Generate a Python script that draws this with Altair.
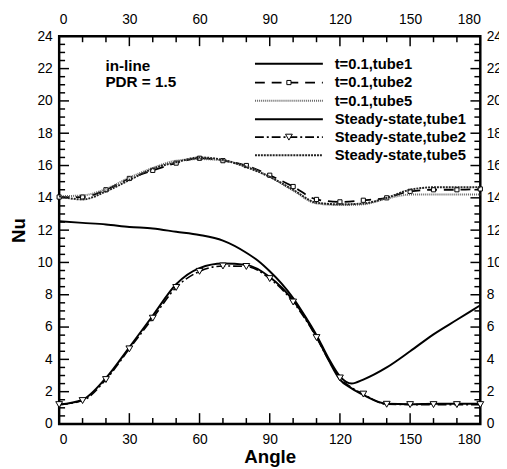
import altair as alt
import pandas as pd

# ---------------- data ----------------
angles10 = [0, 10, 20, 30, 40, 50, 60, 70, 80, 90, 100, 110, 120, 130, 140, 150, 160, 170, 180]
angles_low = [0, 10, 20, 30, 40, 50, 60, 70, 80, 90, 100, 110, 115, 120, 125, 130, 140, 150, 160, 170, 180]
angles_t1 = [0, 10, 20, 30, 40, 50, 60, 70, 80, 85, 90, 95, 100, 105, 110, 115, 120, 125, 130, 140, 150, 160, 170, 180]

t01_tube1 = [12.55, 12.45, 12.35, 12.2, 12.1, 11.9, 11.7, 11.35, 10.6, 10.1, 9.45, 8.7, 7.8, 6.7,
             5.5, 4.1, 2.95, 2.5, 2.75, 3.5, 4.5, 5.55, 6.45, 7.35]
t01_tube2 = [14.05, 14.05, 14.5, 15.2, 15.7, 16.15, 16.45, 16.3, 16.0, 15.4, 14.7, 13.9, 13.75,
             13.85, 14.0, 14.4, 14.5, 14.5, 14.55]
t01_tube5 = [14.1, 14.15, 14.55, 15.25, 15.85, 16.3, 16.4, 16.3, 15.95, 15.3, 14.45, 13.65, 13.55,
             13.6, 13.95, 14.2, 14.2, 14.2, 14.2]
ss_tube1 = [1.2, 1.5, 2.85, 4.75, 6.7, 8.65, 9.65, 9.93, 9.85, 9.1, 7.65, 5.4, 4.0, 2.75, 2.2,
            1.8, 1.25, 1.22, 1.25, 1.25, 1.25]
ss_tube2 = [1.2, 1.45, 2.75, 4.65, 6.55, 8.45, 9.45, 9.78, 9.75, 9.0, 7.55, 5.35, 4.0, 2.85, 2.25,
            1.85, 1.22, 1.2, 1.2, 1.2, 1.2]
ss_tube5 = [14.1, 13.9, 14.4, 15.1, 15.8, 16.2, 16.5, 16.35, 15.9, 15.3, 14.5, 13.7, 13.6,
            13.65, 14.0, 14.5, 14.65, 14.65, 14.65]

series_names = ["t=0.1,tube1", "t=0.1,tube2", "t=0.1,tube5",
                "Steady-state,tube1", "Steady-state,tube2", "Steady-state,tube5"]
series_data = {
    "t=0.1,tube1": (angles_t1, t01_tube1),
    "t=0.1,tube2": (angles10, t01_tube2),
    "t=0.1,tube5": (angles10, t01_tube5),
    "Steady-state,tube1": (angles_low, ss_tube1),
    "Steady-state,tube2": (angles_low, ss_tube2),
    "Steady-state,tube5": (angles10, ss_tube5),
}

x_labels = [0, 30, 60, 90, 120, 150, 180]
x_minor = [10, 20, 40, 50, 70, 80, 100, 110, 130, 140, 160, 170]
y_labels = [0, 2, 4, 6, 8, 10, 12, 14, 16, 18, 20, 22, 24]
y_minor = [v / 2 for v in range(1, 48) if v % 4 != 0]

annotations = ["in-line", "PDR = 1.5"]

# ---------------- styles / layout ----------------
W, H = 428, 394
FONT = "Liberation Sans"
styles = {
    "t=0.1,tube1": dict(color="black", strokeWidth=2),
    "t=0.1,tube2": dict(color="black", strokeWidth=1.8, strokeDash=[10, 7]),
    "t=0.1,tube5": dict(color="#666666", strokeWidth=2, strokeDash=[1, 1]),
    "Steady-state,tube1": dict(color="black", strokeWidth=2),
    "Steady-state,tube2": dict(color="black", strokeWidth=1.6, strokeDash=[9, 3, 2, 3]),
    "Steady-state,tube5": dict(color="#222222", strokeWidth=2, strokeDash=[2, 1]),
}
markers = {
    "t=0.1,tube2": dict(shape="square", size=18),
    "Steady-state,tube2": dict(shape="triangle-down", size=48),
}
legend_rows_y = [28, 47, 65.5, 84.3, 102.5, 121]
annot_rows_y = [30, 47]

xs = alt.Scale(domain=[0, 180], nice=False, zero=False)
ys = alt.Scale(domain=[0, 24], nice=False, zero=False)

layers = []

# axes (labels only; ticks drawn inward below)
axis_df = pd.DataFrame({"angle": [0, 180], "nu": [0, 24]})
common_axis = dict(ticks=False, domain=False, grid=False, labelFont=FONT, labelFontSize=14,
                   labelColor="black", titleFont=FONT, titleFontSize=19, titleFontWeight="bold",
                   titleColor="black", format="d")
layers.append(
    alt.Chart(axis_df).mark_point(opacity=0).encode(
        x=alt.X("angle:Q", scale=xs, axis=alt.Axis(orient="bottom", values=x_labels, title="Angle",
                                                     labelPadding=9, titlePadding=1, **common_axis)),
        y=alt.Y("nu:Q", scale=ys, axis=alt.Axis(orient="left", values=y_labels, title="Nu",
                                                  labelPadding=7, titlePadding=9, **common_axis)),
    )
)
layers.append(
    alt.Chart(axis_df).mark_point(opacity=0).encode(
        x=alt.X("angle:Q", scale=xs, axis=alt.Axis(orient="top", values=x_labels, title="",
                                                     labelPadding=10, **common_axis)),
        y=alt.Y("nu:Q", scale=ys, axis=alt.Axis(orient="right", values=y_labels, title="",
                                                  labelPadding=6, **common_axis)),
    )
)

# inward ticks
def xticks(vals, length, bottom=True):
    df = pd.DataFrame({"angle": vals})
    y0 = H if bottom else 0
    y1 = H - length if bottom else length
    return alt.Chart(df).mark_rule(color="black", strokeWidth=1.5).encode(
        x=alt.X("angle:Q", scale=xs, axis=None), y=alt.value(y0), y2=alt.value(y1))

def yticks(vals, length, left=True):
    df = pd.DataFrame({"nu": vals})
    x0 = 0 if left else W
    x1 = length if left else W - length
    return alt.Chart(df).mark_rule(color="black", strokeWidth=1.5).encode(
        y=alt.Y("nu:Q", scale=ys, axis=None), x=alt.value(x0), x2=alt.value(x1))

layers += [xticks(x_labels, 11, True), xticks(x_minor, 6, True),
           xticks(x_labels, 10, False), xticks(x_minor, 6, False),
           yticks(y_labels, 10, True), yticks(y_minor, 6, True),
           yticks(y_labels, 10, False), yticks(y_minor, 6, False)]

# data lines and markers
for name in series_names:
    ang, vals = series_data[name]
    df = pd.DataFrame({"angle": ang, "nu": vals})
    layers.append(
        alt.Chart(df).mark_line(interpolate="monotone", **styles[name]).encode(
            x=alt.X("angle:Q", scale=xs, axis=None), y=alt.Y("nu:Q", scale=ys, axis=None))
    )
    if name in markers:
        mdf = df[df["angle"] % 10 == 0]
        layers.append(
            alt.Chart(mdf).mark_point(filled=True, fill="white", stroke="black", strokeWidth=1,
                                      opacity=1, **markers[name]).encode(
                x=alt.X("angle:Q", scale=xs, axis=None), y=alt.Y("nu:Q", scale=ys, axis=None))
        )

# legend (drawn inside the plot, top right)
for i, name in enumerate(series_names):
    ldf = pd.DataFrame({"label": [name]})
    yp = legend_rows_y[i]
    layers.append(
        alt.Chart(ldf).mark_rule(**styles[name]).encode(
            x=alt.value(199), x2=alt.value(268), y=alt.value(yp))
    )
    if name in markers:
        layers.append(
            alt.Chart(ldf).mark_point(filled=True, fill="white", stroke="black", strokeWidth=1,
                                      opacity=1, **markers[name]).encode(
                x=alt.value(233.5), y=alt.value(yp))
        )
    layers.append(
        alt.Chart(ldf).mark_text(align="left", baseline="middle", font=FONT, fontSize=15,
                                 fontWeight="bold", color="black").encode(
            x=alt.value(280), y=alt.value(yp), text="label:N")
    )

# annotation text
for i, t in enumerate(annotations):
    adf = pd.DataFrame({"t": [t]})
    layers.append(
        alt.Chart(adf).mark_text(align="left", baseline="middle", font=FONT, fontSize=15.5,
                                 fontWeight="bold", color="black").encode(
            x=alt.value(47), y=alt.value(annot_rows_y[i]), text="t:N")
    )

chart = alt.layer(*layers).resolve_axis(x="independent", y="independent").properties(
    width=W, height=H,
    autosize=alt.AutoSizeParams(type="none"),
    padding={"left": 52, "top": 25, "right": 19, "bottom": 42},
).configure_view(stroke="black", strokeWidth=2.5)

chart.save("out.html", embed_options={"renderer": "svg", "actions": False})
